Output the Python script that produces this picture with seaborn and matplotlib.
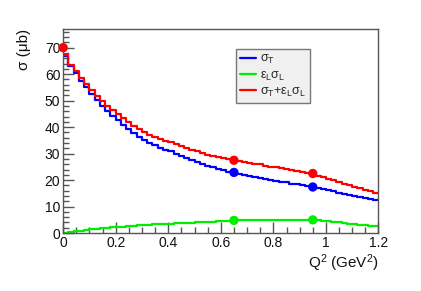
import matplotlib
matplotlib.use('Agg')
import matplotlib.pyplot as plt
from matplotlib.ticker import MultipleLocator
import seaborn as sns
import pandas as pd
import numpy as np

# Q^2 binning (GeV^2) and cross sections (mub)
q2_edges = np.linspace(0.0, 1.2, 61)
q2_centers = 0.5 * (q2_edges[:-1] + q2_edges[1:])

sigma_t = [67.0, 63.0, 60.5, 57.5, 55.0, 52.5, 50.2, 48.0, 46.0, 44.2,
           42.5, 40.9, 39.3, 37.8, 36.3, 35.0, 34.0, 33.1, 32.3, 31.5,
           30.8, 30.0, 29.2, 28.4, 27.6, 26.8, 26.1, 25.4, 24.8, 24.2,
           23.7, 23.2, 22.8, 22.4, 22.0, 21.6, 21.2, 20.9, 20.5, 20.1,
           19.8, 19.4, 19.1, 18.7, 18.4, 18.0, 17.7, 17.3, 16.9, 16.5,
           16.1, 15.7, 15.3, 14.9, 14.5, 14.1, 13.7, 13.3, 12.9, 12.5]

eps_sigma_l = [0.15, 0.45, 0.70, 0.95, 1.20, 1.40, 1.60, 1.80, 2.00, 2.15,
               2.30, 2.45, 2.60, 2.75, 2.90, 3.00, 3.15, 3.25, 3.35, 3.45,
               3.55, 3.65, 3.75, 3.85, 3.95, 4.05, 4.15, 4.25, 4.35, 4.45,
               4.55, 4.65, 4.75, 4.80, 4.85, 4.90, 4.95, 5.00, 5.00, 5.00,
               5.05, 5.05, 5.05, 5.05, 5.05, 5.05, 5.05, 5.00, 4.80, 4.60,
               4.40, 4.20, 4.00, 3.80, 3.60, 3.40, 3.20, 3.00, 2.80, 2.60]

sigma_sum = [a + b for a, b in zip(sigma_t, eps_sigma_l)]

# measured points
pts_q2 = [0.65, 0.95]
pts_t = [22.9, 17.4]
pts_l = [4.8, 5.0]
pts_sum = [27.5, 22.5]
photo_q2 = [0.0]
photo_sigma = [70.0]

sns.set_style("white")
plt.rcParams['font.family'] = ['Liberation Sans', 'DejaVu Sans']
plt.rcParams['mathtext.fontset'] = 'custom'
plt.rcParams['mathtext.rm'] = 'Liberation Sans'
plt.rcParams['mathtext.it'] = 'Liberation Sans'
plt.rcParams['mathtext.default'] = 'regular'

fig = plt.figure(figsize=(4.21, 2.91), dpi=100)
ax = fig.add_axes([0.150, 0.199, 0.749, 0.701])

curves = [(sigma_t, 'blue', r'$\sigma_T$'),
          (eps_sigma_l, '#00ee00', r'$\varepsilon_L\sigma_L$'),
          (sigma_sum, 'red', r'$\sigma_T$+$\varepsilon_L\sigma_L$')]
for vals, col, lab in curves:
    df = pd.DataFrame({'q2': q2_centers, 'w': vals})
    sns.histplot(data=df, x='q2', weights='w', bins=len(q2_centers),
                 binrange=(q2_edges[0], q2_edges[-1]), element='step',
                 fill=False, color=col, linewidth=1.6, label=lab, ax=ax)

for ys, col in [(pts_t, 'blue'), (pts_l, '#00ee00'), (pts_sum, 'red')]:
    sns.scatterplot(x=pts_q2, y=ys, color=col, s=45, edgecolor='none',
                    zorder=5, ax=ax)
sns.scatterplot(x=photo_q2, y=photo_sigma, color='red', s=45,
                edgecolor='none', zorder=6, clip_on=False, ax=ax)

ax.set_xlim(0, 1.2)
ax.set_ylim(0, 77)
ax.xaxis.set_major_locator(MultipleLocator(0.2))
ax.xaxis.set_minor_locator(MultipleLocator(0.05))
ax.yaxis.set_major_locator(MultipleLocator(10))
ax.yaxis.set_minor_locator(MultipleLocator(2))
ax.xaxis.set_major_formatter(plt.FuncFormatter(lambda v, p: f'{v:g}'))
ax.tick_params(which='both', direction='in', bottom=True, left=True,
               top=False, right=False, color='#555555', labelcolor='#111111',
               labelsize=10, pad=2)
ax.tick_params(which='major', length=8, width=1)
ax.tick_params(which='minor', length=4, width=1)
for sp in ax.spines.values():
    sp.set_color('#555555')
    sp.set_linewidth(1.0)

ax.set_xlabel('Q$^2$ (GeV$^2$)', fontsize=11, loc='right', labelpad=2,
              color='#111111')
ax.set_ylabel('σ (μb)', fontsize=11, loc='top', labelpad=10,
              color='#111111')

leg = ax.legend(loc='upper left', bbox_to_anchor=(0.548, 0.9), fontsize=9,
                handlelength=1.3, handletextpad=0.3, labelspacing=0.25,
                borderpad=0.3, borderaxespad=0, frameon=True, fancybox=False)
leg.get_frame().set_facecolor('#f0f0f0')
leg.get_frame().set_edgecolor('#777777')
leg.get_frame().set_alpha(1)

fig.savefig('out.png', dpi=100)
